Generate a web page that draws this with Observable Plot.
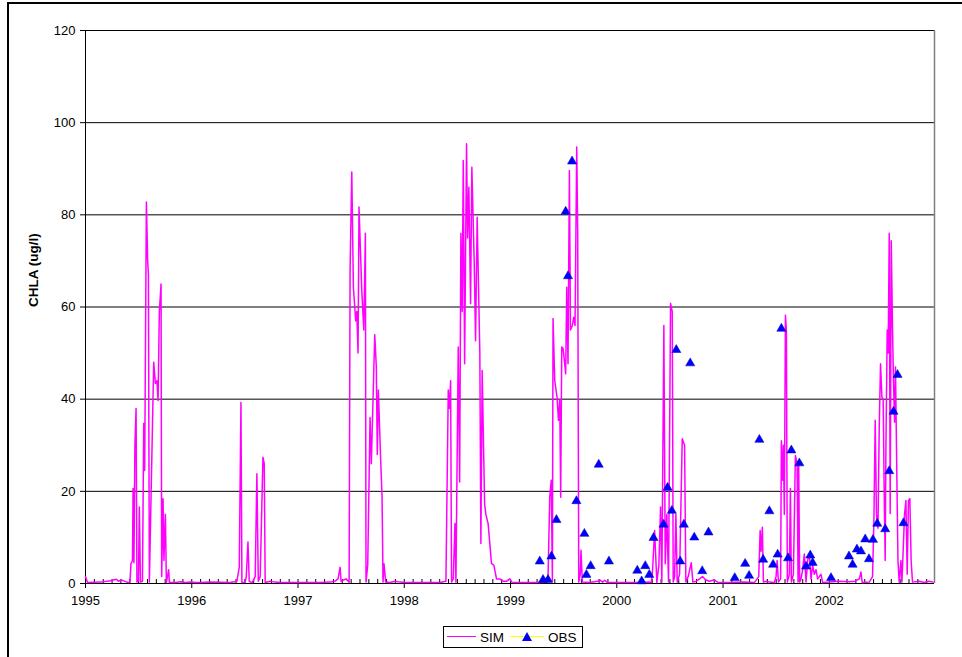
<!DOCTYPE html>
<html>
<head>
<meta charset="utf-8">
<script src="https://cdn.jsdelivr.net/npm/d3@7"></script>
<script src="https://cdn.jsdelivr.net/npm/@observablehq/plot@0.6"></script>
<style>
  html, body { margin: 0; padding: 0; background: #fff; }
  body { width: 962px; height: 657px; position: relative; overflow: hidden; font-family: "Liberation Sans", Arial, sans-serif; }
  #frame { position: absolute; left: 7px; top: 2px; width: 2000px; height: 2000px; border: 2px solid #000; pointer-events: none; }
  #chart svg { display: block; }
  #legend { position: absolute; left: 443px; top: 626px; height: 20px; border: 1px solid #000; background: #fff;
            display: flex; align-items: center; font-size: 13.5px; padding: 0 5px 0 3px; box-sizing: content-box; }
  .sw { position: relative; height: 12px; display: inline-block; }
  .sw .ln { position: absolute; left: 0; right: 0; top: 5px; height: 0; border-top: 1.5px solid; }
  .sw .tri { position: absolute; left: 50%; top: 1px; margin-left: -5px; width: 0; height: 0;
             border-left: 5px solid transparent; border-right: 5px solid transparent; border-bottom: 9px solid #0000FF; }
</style>
</head>
<body>
<div id="chart"></div>
<div id="legend">
  <span class="sw" style="width:29px"><span class="ln" style="border-color:#FF00FF"></span></span>
  <span style="margin:0 6px 0 4px">SIM</span>
  <span class="sw" style="width:34px"><span class="ln" style="border-color:#FFFF00"></span><span class="tri"></span></span>
  <span style="margin-left:4px">OBS</span>
</div>
<div id="frame"></div>
<script>
// ---- Data (decimal year, CHLA ug/l) ----
const simYear = [
  1995.000,1995.019,1995.141,1995.235,1995.291,1995.310,1995.338,1995.376,1995.404,1995.418,
  1995.428,1995.442,1995.448,1995.456,1995.465,1995.476,1995.484,1995.498,1995.507,1995.517,
  1995.536,1995.548,1995.557,1995.573,1995.585,1995.592,1995.601,1995.642,1995.658,1995.672,
  1995.683,1995.695,1995.711,1995.717,1995.730,1995.738,1995.752,1995.761,1995.783,1995.789,
  1995.846,1995.893,1995.940,1995.987,1996.034,
  1996.081,1996.175,1996.362,1996.425,1996.447,1996.463,1996.472,1996.503,1996.513,1996.529,
  1996.541,1996.569,1996.597,1996.613,1996.626,1996.644,1996.670,1996.682,1996.691,1996.738,
  1996.785,1996.832,1996.926,
  1997.020,1997.208,1997.302,1997.349,1997.377,1997.396,1997.405,1997.452,1997.481,1997.490,
  1997.506,1997.521,1997.543,1997.553,1997.565,1997.574,1997.600,1997.619,1997.634,1997.640,
  1997.656,1997.678,1997.690,1997.722,1997.737,1997.746,1997.756,1997.778,1997.791,1997.800,
  1997.809,1997.825,1997.866,1997.913,1997.960,1998.007,1998.148,1998.336,1998.392,
  1998.414,1998.425,1998.436,1998.445,1998.461,1998.477,1998.486,1998.508,1998.521,1998.533,
  1998.545,1998.555,1998.568,1998.586,1998.596,1998.608,1998.624,1998.636,1998.658,1998.671,
  1998.686,1998.711,1998.721,1998.733,1998.756,1998.768,1998.789,1998.821,1998.843,1998.868,
  1998.899,1998.930,1998.965,1998.993,1999.012,
  1999.040,1999.181,1999.275,1999.306,1999.353,1999.369,1999.383,1999.394,1999.400,1999.416,
  1999.438,1999.451,1999.463,1999.472,1999.482,1999.494,1999.510,1999.519,1999.529,1999.541,
  1999.554,1999.564,1999.582,1999.595,1999.607,1999.623,1999.632,1999.642,1999.656,1999.663,
  1999.676,1999.745,1999.820,1999.839,1999.867,1999.886,1999.914,2000.027,2000.215,2000.309,
  2000.325,2000.337,2000.356,2000.377,2000.396,2000.412,2000.424,2000.443,2000.456,2000.471,
  2000.487,2000.506,2000.522,2000.531,2000.544,2000.556,2000.569,2000.591,2000.616,2000.638,
  2000.650,2000.672,2000.701,2000.716,2000.748,2000.779,2000.807,2000.835,2000.872,2000.919,
  2000.948,
  2000.966,2001.060,2001.201,2001.295,2001.336,2001.349,2001.358,2001.370,2001.380,2001.408,
  2001.436,2001.483,2001.499,2001.509,2001.521,2001.542,2001.549,2001.561,2001.568,2001.577,
  2001.587,2001.596,2001.605,2001.624,2001.634,2001.643,2001.662,2001.681,2001.697,2001.706,
  2001.712,2001.721,2001.734,2001.749,2001.765,2001.781,2001.796,2001.812,2001.828,2001.843,
  2001.859,2001.875,2001.890,2001.922,2001.937,2002.000,2002.094,2002.188,2002.244,2002.282,
  2002.298,2002.310,
  2002.376,2002.407,2002.420,2002.432,2002.444,2002.458,2002.470,2002.482,2002.495,2002.507,
  2002.517,2002.526,2002.533,2002.545,2002.554,2002.564,2002.573,2002.583,2002.595,2002.604,
  2002.614,2002.623,2002.632,2002.646,2002.658,2002.674,2002.683,2002.695,2002.708,2002.721,
  2002.733,2002.745,2002.758,2002.770,2002.783,2002.846,2002.893,2002.940,2002.977
];
const simChla = [
  1.5,0.2,0.3,0.6,0.9,0.5,0.8,0.4,0.2,0.3,
  4.3,5,20.6,4.5,30,38,0.3,0.5,16.6,0.3,
  0.5,34.7,24.5,82.8,70,67,0.3,48,43.4,44,
  39.7,59,65,1.5,18.4,5,15,0.2,3,0.2,
  0.2,0.4,0.2,0.3,0.2,
  0.2,0.3,0.2,0.5,3.5,39.3,0.2,0.3,1.5,9,
  0.5,0.2,1.5,23.8,0.5,1.5,27.4,26,0.2,0.5,
  0.3,0.2,0.2,
  0.2,0.2,0.3,0.5,1,3.5,0.5,1,0.3,68,
  89.3,64.3,57,59,50,81.7,63.6,55,76,0.3,
  4,36,26,54,47,28,42,26.7,18.7,0.3,
  4.3,0.3,0.2,0.5,0.3,0.2,0.2,0.2,0.5,
  42,38,44,0.3,1,13,0.3,51.3,22,76,
  59,91.8,47.7,95.4,75,86,60.7,90.3,70,52.7,
  79.5,50,8.7,46.2,17.3,15,13,4.3,4,1,
  1,0.5,0.5,1,0.3,
  0.2,0.2,0.2,0.3,1.5,18.7,22.4,0.5,57.5,44,
  40.4,35.4,40,18.7,51.3,51,47.7,45.5,64.3,47.7,
  89.6,55,56,57.8,56,94.7,76.6,0.3,2,7.2,
  0.3,0.2,0.5,0.8,0.3,0.7,0.2,0.2,0.2,0.3,
  0.2,3,11.5,0.2,4,16.6,0.3,56,4.3,15,
  0.3,60.8,59,0.3,1.5,15,0.3,2,31.4,30,
  0.3,1.5,4.5,0.3,0.5,1,1.5,0.8,0.5,0.8,
  0.3,
  0.2,0.2,0.3,0.2,1.5,11.5,7,12.2,0.3,0.5,
  0.3,0.2,1.5,5,0.3,1,31,22.4,30,15,
  58.2,55,0.3,2,20.6,0.3,2,27.8,26,0.3,
  26,0.3,1,3,6.4,0.3,5,6.4,1,4,
  2,3,1,2,0.2,0.3,0.5,0.4,0.5,1,
  2.5,0.2,
  0.3,1.5,14,35.4,15,12,34,47.7,40.4,40,
  18.7,5,30,55,50,76,15.2,74.4,55,44,
  35,47,30,5,0.3,5,0.3,7,15,18,
  2,18,18.4,5,0.3,0.5,0.2,0.5,0.3
];
const obsYear = [
  1999.275,1999.306,1999.353,1999.385,1999.432,1999.519,1999.541,1999.579,1999.620,1999.695,
  1999.714,1999.754,1999.830,1999.926,2000.193,2000.234,2000.268,2000.306,2000.346,2000.440,
  2000.478,2000.518,2000.560,2000.597,2000.631,2000.691,2000.729,2000.804,2000.863,2001.110,
  2001.208,2001.245,2001.342,2001.377,2001.436,2001.471,2001.514,2001.549,2001.612,2001.643,
  2001.718,2001.781,2001.821,2001.843,2002.016,2002.185,2002.219,2002.260,2002.298,2002.338,
  2002.373,2002.411,2002.451,2002.526,2002.564,2002.604,2002.642,2002.698
];
const obsChla = [
  4.8,0.8,0.8,5.9,13.8,80.7,66.7,91.6,17.9,10.8,
  1.9,3.8,25.8,4.8,2.8,0.5,3.8,1.9,9.9,12.8,
  20.8,15.8,50.7,4.8,12.8,47.8,10.0,2.7,11.1,1.2,
  4.3,1.7,31.2,5.2,15.7,4.1,6.3,55.3,5.5,28.9,
  26.1,3.7,6.1,4.5,1.2,5.9,4.1,7.4,7.0,9.6,
  5.3,9.5,13.0,11.8,24.4,37.3,45.3,13.1
];
const yTicks = [0, 20, 40, 60, 80, 100, 120];
const xYears = [1995, 1996, 1997, 1998, 1999, 2000, 2001, 2002];
const yLabel = "CHLA (ug/l)";

const sim = simYear.map((t, i) => ({t, v: simChla[i]}));
const obs = obsYear.map((t, i) => ({t, v: obsChla[i]}));
const months = d3.range(0, 96).map(i => 1995 + i / 12);

const chart = Plot.plot({
  width: 962,
  height: 620,
  marginLeft: 85,
  marginRight: 28,
  marginTop: 30,
  marginBottom: 37,
  x: {domain: [1995, 2002.99]},
  y: {domain: [0, 120]},
  style: {fontFamily: "'Liberation Sans', Arial, sans-serif", fontSize: "13px", background: "white", color: "black"},
  marks: [
    Plot.gridY(yTicks, {stroke: "#000", strokeOpacity: 1, strokeWidth: 1}),
    Plot.ruleX([2002.99], {stroke: "#808080", strokeWidth: 1.5}),
    Plot.ruleX([1995], {stroke: "#000"}),
    Plot.ruleY([0], {stroke: "#000"}),
    Plot.ruleX(months, {x: d => d, y1: 0, y2: 0, insetTop: -4, stroke: "#000"}),
    Plot.axisY({ticks: yTicks, tickSize: 5, tickPadding: 5, label: null}),
    Plot.axisX({ticks: xYears, tickSize: 5, tickPadding: 7, tickFormat: d => String(d), label: null}),
    Plot.line(sim, {x: "t", y: "v", stroke: "#FF00FF", strokeWidth: 1.5}),
    Plot.dot(obs, {x: "t", y: "v", symbol: "triangle", r: 3.4, fill: "#0000FF", stroke: "#0000C0", strokeWidth: 0.5}),
    Plot.text([yLabel], {frameAnchor: "left", dx: -52, rotate: -90, fontWeight: "bold", fontSize: 13.5})
  ]
});
document.getElementById("chart").appendChild(chart);
</script>
</body>
</html>
